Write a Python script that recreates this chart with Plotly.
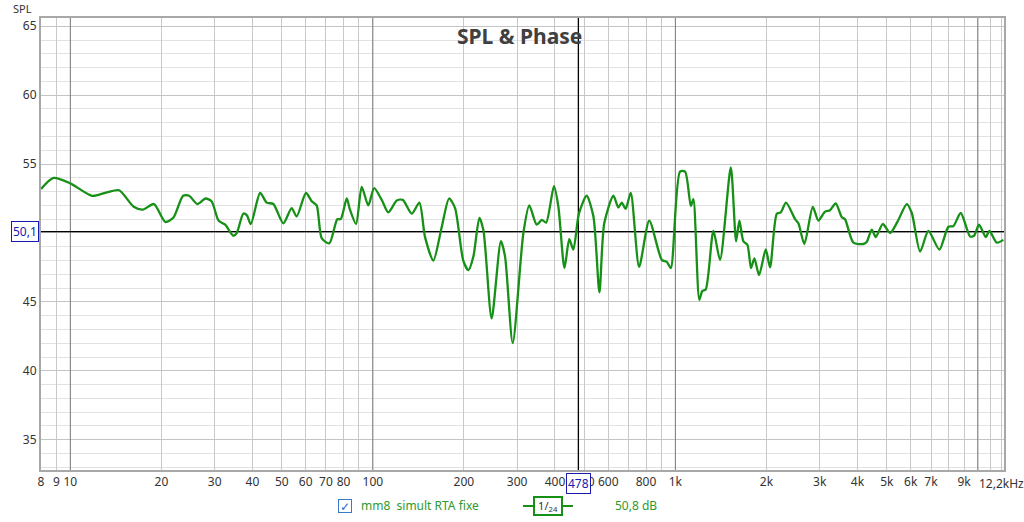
import numpy as np
import plotly.graph_objects as go

# Частоты (Гц) и уровни SPL (дБ)
freq = [
    8.0, 8.8, 10.0, 11.8, 13.2, 14.5, 16.2, 17.4, 18.9, 20.6, 21.9, 23.6,
    24.7, 26.3, 28.0, 29.3, 30.9, 32.5, 34.6, 35.5, 37.3, 38.3, 39.5, 42.4,
    44.6, 46.9, 50.6, 53.9, 56.0, 60.1, 62.8, 65.2, 67.8, 71.8, 76.3, 78.3,
    82.0, 84.0, 88.0, 91.9, 96.6, 101, 107, 112.5, 120, 125.6, 134.5, 142.5,
    148.8, 158.5, 169, 178.6, 187, 199, 207, 215, 225, 232, 247, 265,
    273.5, 290, 314.5, 329, 348, 362, 374, 397, 410.5, 430, 446, 460,
    480, 509, 536, 561, 582, 624, 648, 665, 685, 712, 759, 820,
    902, 937, 966, 1036, 1077, 1125, 1147, 1200, 1228, 1260, 1336, 1405,
    1525, 1588, 1628, 1678, 1730, 1779, 1825, 1891, 1990, 2056, 2164, 2231,
    2322, 2488, 2551, 2670, 2846, 2970, 3125, 3246, 3390, 3548, 3638, 3877,
    4182, 4291, 4459, 4596, 4849, 5127, 5420, 5821, 6047, 6442, 6862, 7458,
    7989, 8299, 8779, 9424, 9714, 10090, 10620, 10915, 11550, 12140,
]
spl = [
    53.2, 54.0, 53.6, 52.7, 52.95, 53.1, 51.9, 51.7, 52.1, 50.8, 51.1, 52.7,
    52.7, 52.1, 52.5, 52.3, 50.9, 50.6, 49.8, 50.0, 51.4, 51.3, 50.65, 52.9,
    52.2, 52.1, 50.7, 51.8, 51.2, 52.9, 52.3, 52.0, 49.6, 49.25, 51.0, 51.0,
    52.5, 51.7, 50.65, 53.35, 52.0, 53.25, 52.4, 51.5, 52.35, 52.4, 51.4, 52.2,
    49.7, 48.0, 50.45, 52.5, 51.8, 48.0, 47.3, 48.3, 51.1, 50.2, 43.8, 49.4,
    48.3, 42.0, 50.0, 52.0, 50.6, 50.95, 50.75, 53.4, 51.9, 47.45, 49.55, 48.8,
    51.4, 52.7, 51.2, 45.7, 50.7, 52.7, 51.85, 52.2, 51.75, 52.9, 47.55, 50.9,
    48.05, 47.9, 47.45, 54.45, 54.45, 51.95, 52.45, 45.15, 45.8, 45.9, 50.15, 48.05,
    54.75, 49.4, 50.9, 49.4, 49.15, 47.45, 48.15, 46.95, 48.8, 47.5, 51.4, 51.5,
    52.2, 51.0, 50.7, 49.2, 51.9, 50.9, 51.55, 51.65, 52.15, 51.15, 51.0, 49.3,
    49.2, 49.35, 50.25, 49.7, 50.65, 50.0, 50.8, 52.1, 51.45, 48.65, 50.15, 48.8,
    50.45, 50.5, 51.45, 49.75, 49.8, 50.6, 49.7, 50.15, 49.3, 49.5,
]

# Сетка и подписи оси X
grid_freqs = [8, 9, 10, 20, 30, 40, 50, 60, 70, 80, 90, 100, 200, 300, 400, 500,
              600, 700, 800, 900, 1000, 2000, 3000, 4000, 5000, 6000, 7000, 8000,
              9000, 10000, 11000, 12000]
grid_labels = ['8', '9', '10', '20', '30', '40', '50', '60', '70', '80', '', '100',
               '200', '300', '400', '500', '600', '', '800', '', '1k', '2k', '3k',
               '4k', '5k', '6k', '7k', '', '9k', '', '', '']
f_min = 8
f_max = 12200
f_max_label = '12,2kHz'
spl_min, spl_max = 32.8, 65.6
decades = [10, 100, 1000, 10000]

cursor_freq = 478
cursor_spl = 50.1
smoothing = '1/24'
level_text = '50,8 dB'
trace_name = 'mm8\u00a0\u00a0simult RTA fixe'

green = '#169016'
text_green = '#2e9a2e'
blue = '#1a1ab0'
legend_y = -0.0796

fig = go.Figure()
fig.add_trace(go.Scatter(x=freq, y=spl, mode='lines', name=trace_name,
                         line=dict(color=green, width=2.3, shape='spline', smoothing=0.7)))

# Декады потемнее (между сеткой и кривой)
for d in decades:
    fig.add_shape(type='line', xref='x', yref='y', x0=d, x1=d, y0=spl_min, y1=spl_max,
                  line=dict(color='#7c7c7c', width=1), layer='between')

# Курсор
fig.add_shape(type='line', xref='x', yref='y', x0=cursor_freq, x1=cursor_freq,
              y0=spl_min, y1=spl_max, line=dict(color='black', width=1.3), layer='between')
fig.add_shape(type='line', xref='x', yref='y', x0=f_min, x1=f_max,
              y0=cursor_spl, y1=cursor_spl, line=dict(color='black', width=1.3), layer='between')

fig.update_layout(
    width=1024, height=522,
    margin=dict(l=41, r=20, t=18, b=52),
    plot_bgcolor='white', paper_bgcolor='white',
    showlegend=False,
    font=dict(family='Noto Sans', size=12, color='#333333'),
    xaxis=dict(type='log', range=[np.log10(f_min), np.log10(f_max)],
               tickvals=grid_freqs, ticktext=grid_labels, automargin=False,
               gridcolor='#c8c8c8', gridwidth=1, ticks='',
               showline=True, linecolor='#a8a8a8', linewidth=2, mirror=True,
               zeroline=False, tickfont=dict(size=12, color='#333333')),
    yaxis=dict(range=[spl_min, spl_max], tick0=0, dtick=5, automargin=False,
               gridcolor='#c4c4c4', gridwidth=1, ticks='',
               minor=dict(dtick=1, tick0=0, showgrid=True, gridcolor='#e2e2e2'),
               showline=True, linecolor='#a8a8a8', linewidth=2, mirror=True,
               zeroline=False, tickfont=dict(size=12, color='#333333')),
)

# Подпись верхней границы частоты
fig.add_annotation(text=f_max_label, xref='x', yref='paper', x=np.log10(f_max), y=0,
                   xanchor='center', yanchor='top', xshift=-3, yshift=-3, showarrow=False,
                   font=dict(size=12, color='#333333'))

# Заголовок и подпись оси
fig.add_annotation(text='<b>SPL & Phase</b>', xref='paper', yref='paper', x=0.497, y=0.96,
                   xanchor='center', yanchor='middle',
                   showarrow=False, font=dict(size=21, color='#404040'))
fig.add_annotation(text='SPL', xref='paper', yref='paper', x=-0.0197, y=1.022,
                   xanchor='center', yanchor='middle',
                   showarrow=False, font=dict(size=11, color='#333333'))

# Метки курсора
fig.add_annotation(text=str(cursor_spl).replace('.', ','), xref='paper', yref='y',
                   x=-0.002, y=cursor_spl, xanchor='right', yanchor='middle', showarrow=False,
                   font=dict(size=12, color=blue), bgcolor='white',
                   bordercolor=blue, borderwidth=1, borderpad=1)
fig.add_annotation(text=str(cursor_freq), xref='x', yref='paper',
                   x=np.log10(cursor_freq), y=0, xanchor='center', yanchor='top', yshift=-3,
                   showarrow=False, font=dict(size=12, color=blue), bgcolor='white',
                   bordercolor=blue, borderwidth=1, borderpad=1)

# Легенда внизу
fig.add_annotation(text='\u2713', xref='paper', yref='paper', x=0.3157, y=legend_y,
                   xanchor='center', yanchor='middle', width=12, height=12,
                   showarrow=False, font=dict(size=12, color='#1a6fd0'),
                   bordercolor='#3a78c8', borderwidth=1, borderpad=0, bgcolor='white')
fig.add_annotation(text=trace_name, xref='paper', yref='paper', x=0.330, y=legend_y,
                   xanchor='left', yanchor='middle', showarrow=False,
                   font=dict(size=12, color=text_green))
fig.add_shape(type='line', xref='paper', yref='paper', x0=0.5005, x1=0.5525,
              y0=legend_y, y1=legend_y, line=dict(color=green, width=2))
fig.add_annotation(text='1/<sub>24</sub>', xref='paper', yref='paper', x=0.5265, y=legend_y,
                   xanchor='center', yanchor='middle', width=24, height=14,
                   showarrow=False, font=dict(size=11, color='#333333'), bgcolor='white',
                   bordercolor=green, borderwidth=2, borderpad=1)
fig.add_annotation(text=level_text, xref='paper', yref='paper', x=0.618, y=legend_y,
                   xanchor='center', yanchor='middle', showarrow=False,
                   font=dict(size=12, color=text_green))

fig.write_html('out.html', config={'displayModeBar': False},
               post_script="document.body.style.margin='0';")
